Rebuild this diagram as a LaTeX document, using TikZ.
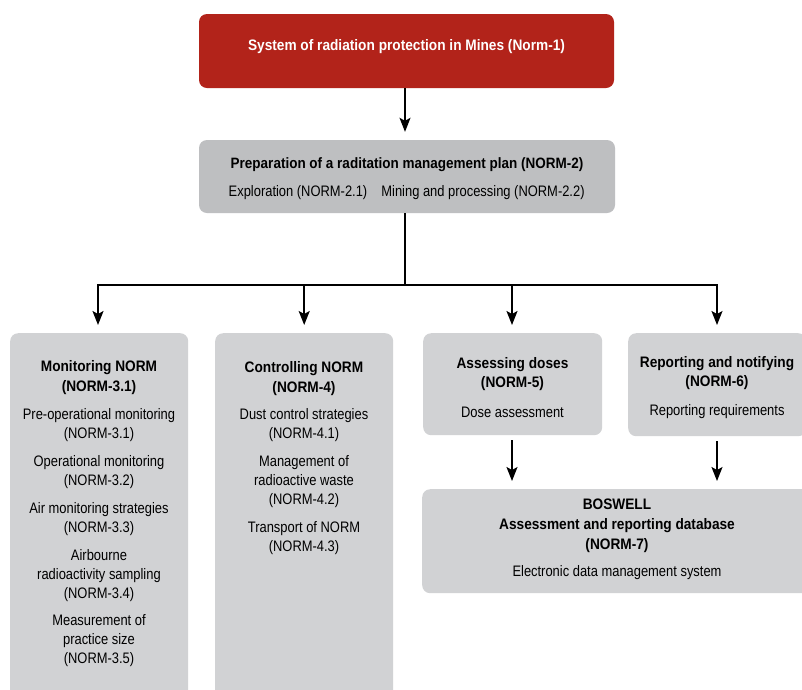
\documentclass[tikz,border=0pt]{standalone}
\usepackage{fontspec}
\setmainfont{Liberation Sans}[FakeStretch=0.85, BoldFeatures={FakeStretch=0.9}]
\usetikzlibrary{arrows.meta}
\definecolor{normred}{RGB}{178,35,26}
\definecolor{graytop}{RGB}{190,191,193}
\definecolor{graylow}{RGB}{209,210,212}
\begin{document}
\begin{tikzpicture}[x=1pt,y=-1pt,
  box/.style={rectangle, rounded corners=8pt, inner sep=0pt, draw=none},
  redbox/.style={box, fill=normred},
  topbox/.style={box, fill=graytop},
  lowbox/.style={box, fill=graylow},
  txt/.style={inner sep=0pt, align=center, font=\fontsize{15.2}{19}\selectfont},
  conn/.style={line width=1.5pt, black},
  arr/.style={conn, -{Stealth[length=14pt,width=11pt,inset=3pt]}, shorten >=8pt}]
\clip (0,0) rectangle (802,689);
\fill[white] (0,0) rectangle (802,689);
% top boxes
\node[redbox, minimum width=415pt, minimum height=74pt] (sys) at (406.5,51) {};
\node[txt, text=white, font=\fontsize{15.2}{19}\selectfont\bfseries] (syst) at (406.5,47) {System of radiation protection in Mines (Norm-1)};
\node[topbox, minimum width=416pt, minimum height=73pt] (plan) at (407,176.5) {};
\node[txt, font=\fontsize{15}{19}\selectfont\bfseries] (plant) at (407,164.5) {Preparation of a raditation management plan (NORM-2)};
\node[txt] (expl) at (298,192.5) {Exploration (NORM-2.1)};
\node[txt] (mine) at (483,192.5) {Mining and processing (NORM-2.2)};
% lower boxes
\node[lowbox, anchor=north west, minimum width=178pt, minimum height=400pt] (mon) at (10,333) {};
\node[lowbox, anchor=north west, minimum width=178pt, minimum height=400pt] (ctl) at (215,333) {};
\node[lowbox, anchor=north west, minimum width=179pt, minimum height=102pt] (dose) at (423,333) {};
\node[lowbox, anchor=north west, minimum width=178pt, minimum height=103pt] (rep) at (628,333) {};
\node[lowbox, anchor=north west, minimum width=390pt, minimum height=104pt] (bos) at (422,489) {};
% texts
\node[txt, anchor=north] (mont) at (99,360) {\textbf{Monitoring NORM}\\[1pt]\textbf{(NORM-3.1)}\\[9pt]
Pre-operational monitoring\\(NORM-3.1)\\[9pt]
Operational monitoring\\(NORM-3.2)\\[9pt]
Air monitoring strategies\\(NORM-3.3)\\[9pt]
Airbourne\\radioactivity sampling\\(NORM-3.4)\\[8pt]
Measurement of\\practice size\\(NORM-3.5)};
\node[txt, anchor=north] (ctlt) at (304,361) {\textbf{Controlling NORM}\\[1pt]\textbf{(NORM-4)}\\[8pt]
Dust control strategies\\(NORM-4.1)\\[9pt]
Management of\\radioactive waste\\(NORM-4.2)\\[9pt]
Transport of NORM\\(NORM-4.3)};
\node[txt, anchor=north] (doset) at (512.5,357) {\textbf{Assessing doses}\\\textbf{(NORM-5)}\\[11pt]
Dose assessment};
\node[txt, anchor=north] (rept) at (717,356) {\textbf{Reporting and notifying}\\\textbf{(NORM-6)}\\[10pt]
Reporting requirements};
\node[txt, anchor=north] (bost) at (617,499) {\textbf{BOSWELL}\\[1pt]\textbf{Assessment and reporting database}\\[1pt]\textbf{(NORM-7)}\\[8pt]
Electronic data management system};
% connectors
\coordinate (j) at (405,285);
\draw[arr] (sys.south -| j) -- (plan.north -| j);
\draw[conn] (plan.south -| j) -- (j);
\draw[arr] (j) -| (mon.north -| 98,0);
\draw[arr] (j) -| (ctl.north);
\draw[arr] (j) -| (dose.north -| 512,0);
\draw[arr] (j) -| (rep.north -| 717,0);
\draw[arr, shorten <=5pt] (dose.south -| 512,0) -- (bos.north -| 512,0);
\draw[arr, shorten <=5pt] (rep.south -| 717,0) -- (bos.north -| 717,0);
\end{tikzpicture}
\end{document}
